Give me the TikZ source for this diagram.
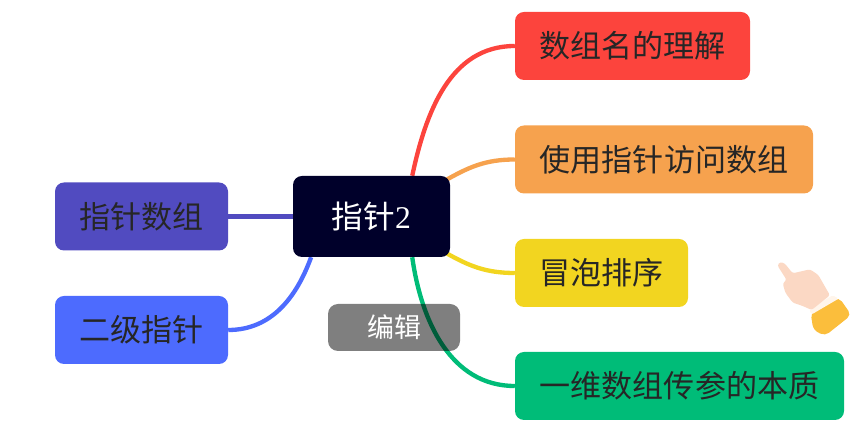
\documentclass[tikz,border=0pt]{standalone}
\usepackage{fontspec}
\usepackage{tikz}
\usetikzlibrary{backgrounds}
\setmainfont{Noto Sans CJK SC}
\newfontfamily\numfont{Liberation Serif}
\definecolor{redc}{HTML}{FC443D}
\definecolor{orangec}{HTML}{F6A24E}
\definecolor{yellowc}{HTML}{F2D520}
\definecolor{greenc}{HTML}{00BC78}
\definecolor{purplec}{HTML}{514BC0}
\definecolor{bluec}{HTML}{4D6BFE}
\definecolor{rootc}{HTML}{00002A}
\definecolor{skinc}{HTML}{FBD8C4}
\definecolor{cuffc}{HTML}{FBBE3C}
\tikzstyle{topic} = [rounded corners=0.27cm,minimum height=2.04cm,inner sep=0pt,text=black!85,font=\fontsize{26.5}{30}\selectfont]
\tikzstyle{branch} = [line width=0.13cm]

\begin{document}
\begin{tikzpicture}
\useasboundingbox (0,0) rectangle (25.8,13.14);

\node[topic,fill=rootc,text=white,minimum width=4.71cm,minimum height=2.43cm,font=\fontsize{27}{30}\selectfont] (root) at (11.145,6.645) {指针{\numfont 2}};
\node[topic,fill=redc,minimum width=7.05cm] (name) at (18.975,11.76) {数组名的理解};
\node[topic,fill=orangec,minimum width=8.94cm] (access) at (19.92,8.355) {使用指针访问数组};
\node[topic,fill=yellowc,minimum width=5.19cm] (bubble) at (18.045,4.95) {冒泡排序};
\node[topic,fill=greenc,minimum width=9.87cm] (param) at (20.385,1.56) {一维数组传参的本质};
\node[topic,fill=purplec,minimum width=5.19cm] (ptrarr) at (4.245,6.645) {指针数组};
\node[topic,fill=bluec,minimum width=5.19cm] (second) at (4.245,3.24) {二级指针};

\begin{scope}[on background layer]
\draw[branch,redc] (root.45) to[out=78,in=180] (name.west);
\draw[branch,orangec] ([xshift=-0.2cm]root.24) to[out=30,in=180] (access.west);
\draw[branch,yellowc] ([xshift=-0.2cm]root.-24) to[out=-30,in=180] (bubble.west);
\draw[branch,greenc] (root.-45) to[out=-82,in=180] (param.west);
\draw[branch,purplec] (root.west) -- (ptrarr.east);
\draw[branch,bluec] (root.-146) to[out=-110,in=0] (second.east);
\end{scope}

\node[fill=black,fill opacity=0.5,text opacity=1,text=white,rounded corners=0.3cm,minimum width=3.96cm,minimum height=1.41cm,inner sep=0pt,font=\fontsize{23}{26}\selectfont] (edit) at (11.82,3.315) {编辑};

% hand
\begin{scope}[shift={(22.8,5.64)},x=0.01cm,y=-0.01cm]
\fill[cuffc,rounded corners=0.15cm] (152,188) -- (237,142) -- (274,195) -- (195,258) -- (160,240) -- cycle;
\fill[orange!8,rounded corners=0.05cm] (148,178) -- (218,136) -- (236,146) -- (154,194) -- cycle;
\fill[skinc,rounded corners=0.07cm] (52,46) -- (60,36) -- (74,40) -- (98,70) -- (150,58) -- (175,75) -- (210,136) -- (155,180) -- (128,168) -- (98,158) -- (76,128) -- (68,100) -- (80,90) -- cycle;
\end{scope}
\end{tikzpicture}
\end{document}
